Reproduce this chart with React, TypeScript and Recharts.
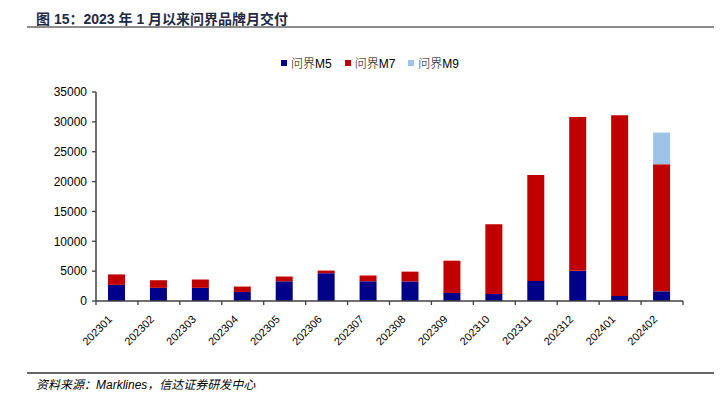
import React from "react";
import { BarChart, Bar, XAxis, YAxis } from "recharts";

const months = [
  "202301", "202302", "202303", "202304", "202305", "202306", "202307",
  "202308", "202309", "202310", "202311", "202312", "202401", "202402",
];
const m5 = [2700, 2200, 2200, 1520, 3300, 4650, 3300, 3280, 1350, 1180, 3370, 5050, 840, 1620];
const m7 = [1750, 1280, 1400, 900, 800, 450, 970, 1640, 5400, 11670, 17730, 25750, 30260, 21280];
const m9 = [0, 0, 0, 0, 0, 0, 0, 0, 0, 0, 0, 0, 0, 5300];
const yTicks = [0, 5000, 10000, 15000, 20000, 25000, 30000, 35000];

const series = [
  { key: "m5", name: "问界M5", color: "#000088" },
  { key: "m7", name: "问界M7", color: "#C00000" },
  { key: "m9", name: "问界M9", color: "#9DC3E6" },
];

const data = months.map((month, i) => ({ month, m5: m5[i], m7: m7[i], m9: m9[i] }));

const AXIS = "#404040";
const FONT = "Arial, 'Liberation Sans', 'Noto Sans CJK SC', sans-serif";

function MonthTick(props: any) {
  const { x, y, payload, index } = props;
  const half = payload.offset || 0;
  const last = index === months.length - 1;
  return (
    <g>
      <line x1={x - half} y1={y} x2={x - half} y2={y + 4} stroke={AXIS} strokeWidth={1.3} />
      {last && <line x1={x + half} y1={y} x2={x + half} y2={y + 4} stroke={AXIS} strokeWidth={1.3} />}
      <text
        x={x - 4}
        y={y + 19}
        textAnchor="end"
        fontSize={11}
        fill="#000"
        fontFamily={FONT}
        transform={`rotate(-45, ${x - 4}, ${y + 19})`}
      >
        {payload.value}
      </text>
    </g>
  );
}

function LegendRow() {
  return (
    <div
      style={{
        position: "absolute",
        left: 281,
        top: 54,
        display: "flex",
        alignItems: "center",
        fontFamily: FONT,
        fontSize: 12,
        color: "#000",
      }}
    >
      {series.map((s) => (
        <div key={s.key} style={{ display: "flex", alignItems: "center", marginRight: 13 }}>
          <span style={{ width: 6, height: 6, background: s.color, display: "inline-block", marginRight: 4 }} />
          <span style={{ fontWeight: 300 }}>{s.name}</span>
        </div>
      ))}
    </div>
  );
}

export default function App() {
  return (
    <div style={{ position: "absolute", left: 0, top: 0, width: 728, height: 399, background: "#fff" }}>
      <div
        style={{
          position: "absolute",
          left: 36,
          top: 8,
          fontFamily: FONT,
          fontSize: 14,
          fontWeight: 700,
          color: "#1F2A44",
          whiteSpace: "nowrap",
        }}
      >
        图 15：2023 年 1 月以来问界品牌月交付
      </div>
      <div style={{ position: "absolute", left: 27, top: 26, width: 687, height: 2, background: "#8C8C8C" }} />
      <LegendRow />
      <BarChart
        width={728}
        height={399}
        data={data}
        margin={{ top: 92, right: 45, bottom: 38, left: 0 }}
        barSize={17}
      >
        <XAxis
          dataKey="month"
          interval={0}
          height={60}
          tickSize={0}
          tickMargin={0}
          tickLine={false}
          axisLine={{ stroke: AXIS, strokeWidth: 1.5 }}
          tick={<MonthTick />}
        />
        <YAxis
          width={96}
          domain={[0, 35000]}
          ticks={yTicks}
          interval={0}
          tickSize={4}
          tickMargin={5}
          axisLine={{ stroke: AXIS, strokeWidth: 1.5 }}
          tickLine={{ stroke: AXIS, strokeWidth: 1.3 }}
          tick={{ fontSize: 12, fill: "#000", fontFamily: FONT }}
        />
        {series.map((s) => (
          <Bar key={s.key} dataKey={s.key} name={s.name} stackId="a" fill={s.color} isAnimationActive={false} />
        ))}
      </BarChart>
      <div style={{ position: "absolute", left: 27, top: 372, width: 687, height: 2, background: "#666" }} />
      <div
        style={{
          position: "absolute",
          left: 36,
          top: 375,
          fontFamily: FONT,
          fontSize: 12,
          fontStyle: "italic",
          color: "#000",
          whiteSpace: "nowrap",
        }}
      >
        资料来源：Marklines，信达证券研发中心
      </div>
    </div>
  );
}
